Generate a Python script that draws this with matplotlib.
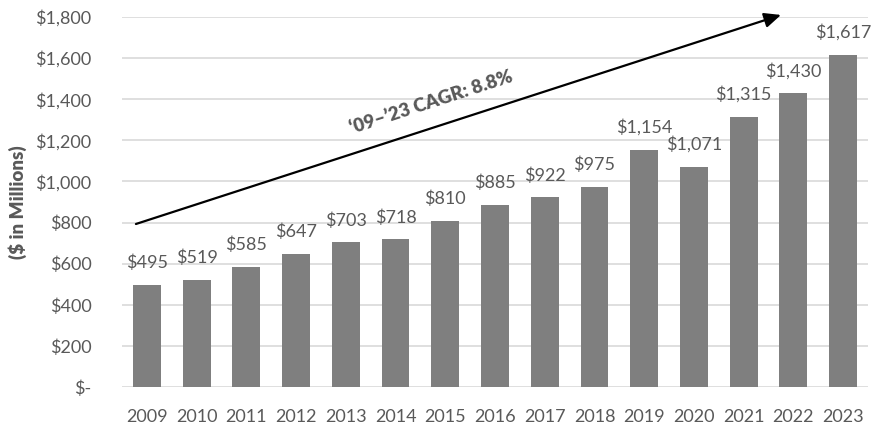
import numpy as np
import matplotlib.pyplot as plt
import matplotlib

matplotlib.rcParams['font.family'] = ['Lato', 'DejaVu Sans']

# data
years = ['2009', '2010', '2011', '2012', '2013', '2014', '2015', '2016',
         '2017', '2018', '2019', '2020', '2021', '2022', '2023']
revenue = [495, 519, 585, 647, 703, 718, 810, 885, 922, 975, 1154, 1071, 1315, 1430, 1617]
y_ticks = [0, 200, 400, 600, 800, 1000, 1200, 1400, 1600, 1800]
y_tick_labels = ['$-', '$200', '$400', '$600', '$800', '$1,000', '$1,200', '$1,400', '$1,600', '$1,800']
cagr_text = '\u201809\u2013\u201923 CAGR: 8.8%'

txt_color = '#595959'
bar_color = '#7f7f7f'

fig = plt.figure(figsize=(8.76, 4.30), dpi=100)
ax = fig.add_axes([122 / 876, 43 / 430, 746 / 876, 370 / 430])

x = np.arange(len(years))
bars = ax.bar(x, revenue, width=0.56, color=bar_color, zorder=3)

for xi, v in zip(x, revenue):
    ax.annotate('${:,}'.format(v), (xi, v), xytext=(0, 10), textcoords='offset points',
                ha='center', va='bottom', fontsize=13, color=txt_color)

ax.set_xlim(-0.5, len(years) - 0.5)
ax.set_ylim(0, 1800)
ax.set_yticks(y_ticks)
ax.set_yticklabels(y_tick_labels)
ax.set_xticks(x)
ax.set_xticklabels(years)
ax.tick_params(axis='y', length=0, pad=22, labelsize=13, labelcolor=txt_color)
ax.tick_params(axis='x', length=0, pad=16, labelsize=13, labelcolor=txt_color)
ax.grid(axis='y', color='#d9d9d9', linewidth=1.2, zorder=0)
for sp in ax.spines.values():
    sp.set_visible(False)

fig.text(18 / 876, 0.53, '($ in Millions)', rotation=90, ha='center', va='center',
         fontsize=13.5, fontweight='heavy', color=txt_color)

# CAGR arrow
ax.annotate('', xy=(12.75, 1810), xytext=(-0.22, 793), annotation_clip=False,
            arrowprops=dict(arrowstyle='-|>,head_length=1.0,head_width=0.45',
                            color='black', lw=1.6, shrinkA=0, shrinkB=0))
ax.text(5.72, 1385, cagr_text, rotation=18, ha='center', va='center',
        fontsize=13.5, fontweight='heavy', color=txt_color)

fig.savefig('out.png', dpi=100)
